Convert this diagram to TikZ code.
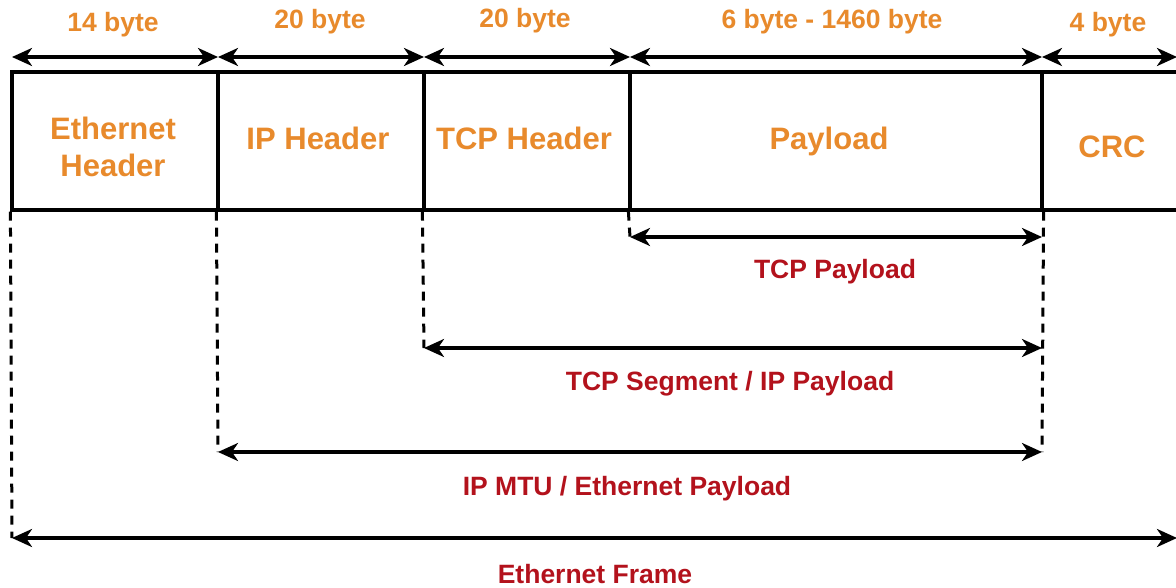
\documentclass[tikz,border=0pt]{standalone}
\usepackage{fontspec}
\setmainfont{Liberation Sans}
\usetikzlibrary{arrows.meta}
\definecolor{orng}{HTML}{E88A2C}
\definecolor{dred}{HTML}{B3121C}
\tikzset{
  cell/.style={draw=black, line width=3.2pt, minimum height=138pt, inner sep=0pt},
  celllbl/.style={text=orng, font=\fontsize{31}{37}\selectfont\bfseries, align=center, inner sep=0pt},
  dim/.style={line width=3.2pt, {Stealth[length=20pt,width=18pt,inset=6pt]}-{Stealth[length=20pt,width=18pt,inset=6pt]}},
  dashl/.style={line width=3pt, dash pattern=on 9pt off 7pt},
  toplbl/.style={text=orng, font=\fontsize{26.5}{28}\selectfont\bfseries, inner sep=0pt},
  botlbl/.style={text=dred, font=\fontsize{26.5}{28}\selectfont\bfseries, inner sep=0pt}
}
\begin{document}
\begin{tikzpicture}[x=1pt,y=-1pt]
\useasboundingbox (0,0) rectangle (1176,588);
\fill[white] (0,0) rectangle (1176,588);
\clip (0,0) rectangle (1176,588);
% cells
\node[cell, minimum width=206pt] (eth) at (115,141) {};
\node[cell, minimum width=206pt] (ip) at (321,141) {};
\node[cell, minimum width=206pt] (tcp) at (527,141) {};
\node[cell, minimum width=412pt] (pay) at (836,141) {};
\node[cell, minimum width=140pt] (crc) at (1112,141) {};
\node[celllbl] (ethl) at (113,147) {Ethernet\\Header};
\node[celllbl] (ipl) at (318,138) {IP Header};
\node[celllbl] (tcpl) at (524,138) {TCP Header};
\node[celllbl] (payl) at (829,141) {Payload};
\node[celllbl] (crcl) at (1112,147) {CRC};
% top dimension coordinates
\coordinate (t0) at (12,57);
\coordinate (t1) at (218,57);
\coordinate (t2) at (424,57);
\coordinate (t3) at (630,57);
\coordinate (t4) at (1042,57);
\coordinate (t5) at (1177,57);
\draw[dim] (t0) -- (t1);
\draw[dim] (t1) -- (t2);
\draw[dim] (t2) -- (t3);
\draw[dim] (t3) -- (t4);
\draw[dim] (t4) -- (t5);
\node[toplbl] (l1) at (113,25) {14 byte};
\node[toplbl] (l2) at (320,22) {20 byte};
\node[toplbl] (l3) at (525,21) {20 byte};
\node[toplbl] (l4) at (832,22) {6 byte - 1460 byte};
\node[toplbl] (l5) at (1108,25) {4 byte};
% lower coordinates
\coordinate (a1) at (630,237);
\coordinate (a2) at (1042,237);
\coordinate (b1) at (424,348);
\coordinate (b2) at (1042,348);
\coordinate (c1) at (218,452);
\coordinate (c2) at (1042,452);
\coordinate (d1) at (12,538);
\coordinate (d2) at (1177,538);
% dashed guides
\draw[dashl] (pay.south west) -- (a1);
\draw[dashl] (tcp.south west) -- (b1);
\draw[dashl] (ip.south west) -- (c1);
\draw[dashl] (eth.south west) -- (d1);
\draw[dashl] (pay.south east) -- (c2);
% dimension arrows
\draw[dim] (a1) -- (a2);
\draw[dim] (b1) -- (b2);
\draw[dim] (c1) -- (c2);
\draw[dim] (d1) -- (d2);
\node[botlbl] (m1) at (835,272) {TCP Payload};
\node[botlbl] (m2) at (730,384) {TCP Segment / IP Payload};
\node[botlbl] (m3) at (627,489) {IP MTU / Ethernet Payload};
\node[botlbl] (m4) at (595,574) {Ethernet Frame};
\end{tikzpicture}
\end{document}
